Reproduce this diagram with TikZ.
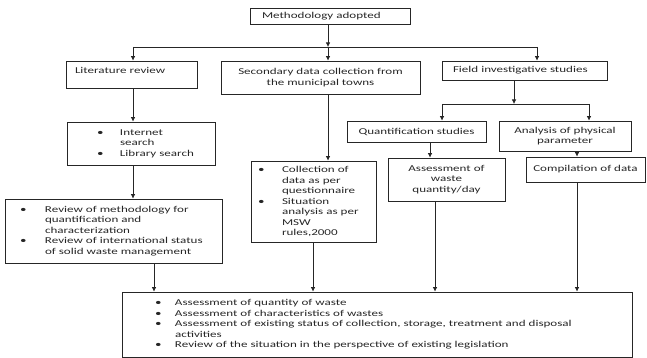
\documentclass[tikz,border=0pt]{standalone}
\usepackage{fontspec}
\setmainfont{Carlito}[FakeStretch=1.45]
\usetikzlibrary{arrows.meta}
\newcommand\fs{\fontsize{9}{10.5}\selectfont}
\newcommand\bi[2]{\makebox[#1][l]{\textbullet}\mbox{#2}}
\newcommand\ci[2]{\hspace*{#1}\mbox{#2}}
\begin{document}
\begin{tikzpicture}[x=1pt,y=-1pt,
  ln/.style={line width=0.7pt, draw=black!85},
  bx/.style={ln, rectangle, inner ysep=0pt, font=\fs, text=black!85},
  arr/.style={ln, -{Latex[length=4.5pt,width=4.5pt]}}]
\useasboundingbox (0,0) rectangle (647,358);

\node[bx, minimum height=16pt, text width=136pt, inner xsep=12pt, align=left] (meth) at (330,16) {\mbox{Methodology adopted}};
\node[bx, minimum height=27pt, text width=113pt, inner xsep=9pt, align=left, text depth=8pt] (lit) at (131.5,74.5) {\mbox{Literature review}};
\node[bx, minimum height=33pt, minimum width=199pt, inner xsep=2pt, align=center] (sec) at (320.5,77.5) {Secondary data collection from\\the municipal towns};
\node[bx, minimum height=19pt, text width=143pt, inner xsep=11pt, align=left] (field) at (524.5,70.5) {\mbox{Field investigative studies}};

\node[bx, minimum height=43pt, text width=88pt, inner xsep=30pt, align=left] (inet) at (141,143.5)
  {\bi{23pt}{Internet}\\\ci{23pt}{search}\\\bi{23pt}{Library search}};
\node[bx, minimum height=64pt, text width=187pt, inner xsep=15pt, align=left] (review) at (113.5,231)
  {\bi{25pt}{Review of methodology for}\\\ci{25pt}{quantification and}\\\ci{25pt}{characterization}\\\bi{25pt}{Review of international status}\\\ci{25pt}{of solid waste management}};
\node[bx, minimum height=81pt, text width=111pt, inner xsep=7pt, align=left] (coll) at (313.5,201.5)
  {\bi{24pt}{Collection of}\\\ci{24pt}{data as per}\\\ci{24pt}{questionnaire}\\\bi{24pt}{Situation}\\\ci{24pt}{analysis as per}\\\ci{24pt}{MSW}\\\ci{24pt}{rules,2000}};

\node[bx, minimum height=21pt, minimum width=139pt, inner xsep=2pt, align=center] (quant) at (416.5,131.5) {Quantification studies};
\node[bx, minimum height=30pt, minimum width=132pt, inner xsep=2pt, align=center] (anal) at (565,136) {Analysis of physical\\parameter};
\node[bx, minimum height=43pt, minimum width=117pt, inner xsep=2pt, align=center] (assess) at (446.5,179.5) {Assessment of\\waste\\quantity/day};
\node[bx, minimum height=25pt, minimum width=119pt, inner xsep=2pt, align=center] (comp) at (585.5,169.5) {Compilation of data};

\node[bx, minimum height=65pt, text width=444pt, inner xsep=33pt, align=left] (bot) at (377,324.5)
  {\bi{20pt}{Assessment of quantity of waste}\\\bi{20pt}{Assessment of characteristics of wastes}\\\bi{20pt}{Assessment of existing status of collection, storage, treatment and disposal}\\\ci{20pt}{activities}\\\bi{20pt}{Review of the situation in the perspective of existing legislation}};

\coordinate (j1) at (328,47);
\coordinate (j1l) at (133,47);
\coordinate (j1r) at (537,47);
\coordinate (j2) at (514,104);
\coordinate (j2l) at (442,104);
\coordinate (j2r) at (589,104);
\coordinate (xa) at (133,0);
\coordinate (xb) at (430,0);
\coordinate (xc) at (577,0);
\coordinate (xd) at (154,0);
\coordinate (xe) at (435,0);
\coordinate (xf) at (313,0);

\draw[arr] (meth.south -| j1) -- (j1);
\draw[ln] (j1l) -- (j1r);
\draw[arr] (j1l) -- (lit.north -| j1l);
\draw[arr] (j1) -- (sec.north -| j1);
\draw[arr] (j1r) -- (field.north -| j1r);
\draw[arr] (field.south -| j2) -- (j2);
\draw[ln] (j2l) -- (j2r);
\draw[arr] (j2l) -- (quant.north -| j2l);
\draw[arr] (j2r) -- (anal.north -| j2r);
\draw[arr] (lit.south -| xa) -- (inet.north -| xa);
\draw[arr] (inet.south -| xa) -- (review.north -| xa);
\draw[arr] (sec.south -| j1) -- (coll.north -| j1);
\draw[arr] (quant.south -| xb) -- (assess.north -| xb);
\draw[arr] (anal.south -| xc) -- (comp.north -| xc);
\draw[arr] (review.south -| xd) -- (bot.north -| xd);
\draw[arr] (coll.south -| xf) -- (bot.north -| xf);
\draw[arr] (assess.south -| xe) -- (bot.north -| xe);
\draw[arr] (comp.south -| xc) -- (bot.north -| xc);
\end{tikzpicture}
\end{document}
